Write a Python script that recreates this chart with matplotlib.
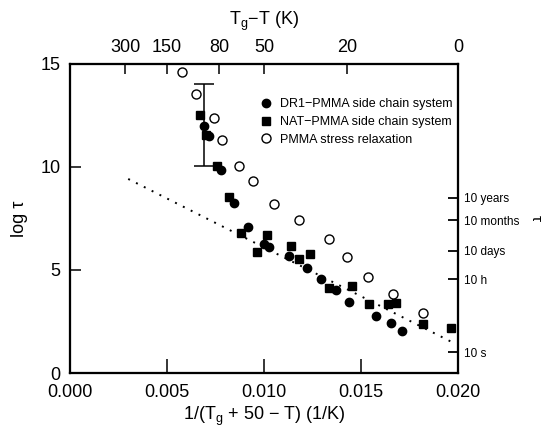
import matplotlib
matplotlib.use("Agg")
import matplotlib.pyplot as plt
import numpy as np

plt.rcParams['font.family'] = ['Liberation Sans', 'DejaVu Sans']
plt.rcParams['mathtext.fontset'] = 'custom'
plt.rcParams['mathtext.rm'] = 'Liberation Sans'
plt.rcParams['mathtext.it'] = 'Liberation Sans'
plt.rcParams['mathtext.default'] = 'regular'

# ---- data ----
dr1_x = [0.00692, 0.00716, 0.00777, 0.00844, 0.00919, 0.0100, 0.01027, 0.01127,
         0.01222, 0.01292, 0.01371, 0.0144, 0.01576, 0.01655, 0.01711]
dr1_y = [12.0, 11.5, 9.85, 8.24, 7.10, 6.25, 6.10, 5.68, 5.11, 4.55, 4.01, 3.43,
         2.75, 2.41, 2.02]

nat_x = [0.00672, 0.00699, 0.00756, 0.0082, 0.00881, 0.00966, 0.01014, 0.01141,
         0.01179, 0.01237, 0.01335, 0.01452, 0.01541, 0.01641, 0.0168, 0.01821, 0.01964]
nat_y = [12.52, 11.55, 10.05, 8.56, 6.81, 5.89, 6.71, 6.18, 5.52, 5.79, 4.14, 4.22,
         3.35, 3.35, 3.38, 2.38, 2.20]

pmma_x = [0.00576, 0.00648, 0.00741, 0.00784, 0.00869, 0.00945, 0.01053, 0.0118,
          0.01333, 0.01429, 0.01538, 0.01667, 0.01818]
pmma_y = [14.63, 13.53, 12.36, 11.33, 10.03, 9.34, 8.22, 7.41, 6.50, 5.63, 4.64,
          3.83, 2.90]

fit_x = [0.0030, 0.0199]
fit_y = [9.42, 1.40]

errbar_x = 0.00691
errbar_lo = 10.05
errbar_hi = 14.03

x_ticks = [0.000, 0.005, 0.010, 0.015, 0.020]
x_ticklabels = ["0.000", "0.005", "0.010", "0.015", "0.020"]
y_ticks = [0, 5, 10, 15]

top_dT = [300, 150, 80, 50, 20, 0]          # Tg - T (K)
top_labels = ["300", "150", "80", "50", "20", "0"]

right_seconds = [10 * 365.25 * 86400, 10 * 30.44 * 86400, 10 * 86400, 10 * 3600, 10]
right_labels = ["10 years", "10 months", "10 days", "10 h", "10 s"]

labels = ["DR1\u2212PMMA side chain system",
          "NAT\u2212PMMA side chain system",
          "PMMA stress relaxation"]

# ---- figure ----
fig = plt.figure(figsize=(5.5, 4.28), dpi=100)
ax = fig.add_axes([0.1273, 0.1285, 0.8327 - 0.1273, 0.8505 - 0.1285])

ax.plot(fit_x, fit_y, color='black', linestyle=(0, (1, 3.5)), linewidth=1.4)
ax.errorbar([errbar_x], [(errbar_lo + errbar_hi) / 2],
            yerr=[[(errbar_hi - errbar_lo) / 2], [(errbar_hi - errbar_lo) / 2]],
            fmt='none', ecolor='black', elinewidth=1.1, capsize=7, capthick=1.1)
ax.plot(dr1_x, dr1_y, 'o', color='black', markersize=6, label=labels[0])
ax.plot(nat_x, nat_y, 's', color='black', markersize=5.8, label=labels[1])
ax.plot(pmma_x, pmma_y, 'o', markerfacecolor='white', markeredgecolor='black',
        markeredgewidth=1.0, markersize=6.5, label=labels[2])

ax.set_xlim(0, 0.020)
ax.set_ylim(0, 15)
ax.set_xticks(x_ticks)
ax.set_xticklabels(x_ticklabels)
ax.set_yticks(y_ticks)
ax.tick_params(axis='x', direction='in', length=10, width=1.1, labelsize=13, pad=8)
ax.tick_params(axis='y', direction='in', length=8, width=1.1, labelsize=13, pad=7)
for s in ax.spines.values():
    s.set_linewidth(1.5)

ax.set_xlabel("1/(T$_g$ + 50 \u2212 T) (1/K)", fontsize=13, labelpad=3)
ax.set_ylabel("log \u03c4", fontsize=13, labelpad=9)

leg = ax.legend(loc='upper left', bbox_to_anchor=(0.48, 0.905), frameon=False,
                fontsize=9, handlelength=0.8, handletextpad=0.7,
                labelspacing=0.45, borderaxespad=0)

# top axis
axt = ax.twiny()
axt.set_xlim(ax.get_xlim())
axt.set_xticks([1.0 / (50 + d) for d in top_dT])
axt.set_xticklabels(top_labels)
axt.tick_params(axis='x', direction='in', length=7, width=1.1, labelsize=13, pad=6)
axt.set_xlabel("T$_g$\u2212T (K)", fontsize=13, labelpad=10)
for s in axt.spines.values():
    s.set_linewidth(1.5)

# right axis
axr = ax.twinx()
axr.set_ylim(ax.get_ylim())
axr.set_yticks([np.log10(s) for s in right_seconds])
axr.set_yticklabels(right_labels)
axr.tick_params(axis='y', direction='in', length=7, width=1.3, labelsize=8.5, pad=4)
for s in axr.spines.values():
    s.set_linewidth(1.5)
fig.text(0.975, 0.49, "\u03c4", rotation=270, fontsize=11, ha='center', va='center')

fig.savefig("out.png", dpi=100)
